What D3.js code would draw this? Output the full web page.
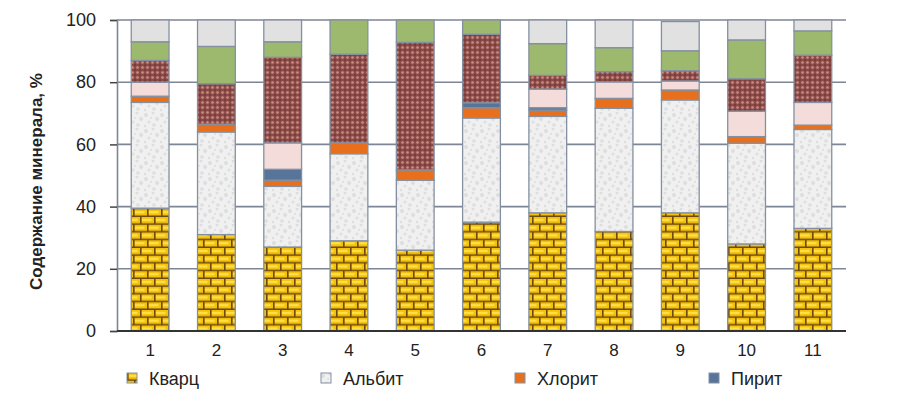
<!DOCTYPE html>
<html><head><meta charset="utf-8">
<script src="https://cdn.jsdelivr.net/npm/d3@7"></script>
<style>
html,body{margin:0;padding:0;background:#fff;}
svg{display:block;}
text{font-family:"Liberation Sans",Arial,sans-serif;fill:#222;}
</style></head>
<body>
<svg id="chart" width="899" height="401"></svg>
<script>
const categories = ["1","2","3","4","5","6","7","8","9","10","11"];
const quartz   = [39.5, 31, 27, 29, 26, 35, 38, 32, 38, 28, 33];
const albite   = [34, 33, 19.5, 28, 22.5, 33.5, 31, 39.6, 36.3, 32.4, 31.8];
const chlorite = [2, 2.5, 2, 3.5, 3.3, 3.3, 2, 3.2, 3.2, 2.1, 1.4];
const pyrite   = [0, 0, 3.5, 0, 0, 1.6, 0.8, 0, 0, 0, 0];
const pinkMin  = [4.5, 0, 8.5, 0, 0, 0, 6, 5.3, 2.9, 8.2, 7.3];
const brownMin = [7, 13, 27.5, 28.5, 41, 22, 4.4, 3.3, 3.3, 10.4, 15.2];
const greenMin = [6, 12, 5, 11, 7.2, 4.6, 10.2, 7.7, 6.4, 12.5, 7.8];
const greyMin  = [7, 8.5, 7, 0, 0, 0, 7.6, 8.9, 9.4, 6.4, 3.5];
const yTicks = [0, 20, 40, 60, 80, 100];
const legendLabels = ["Кварц", "Альбит", "Хлорит", "Пирит"];
const yLabel = "Содержание минерала, %";

const keys = ["quartz","albite","chlorite","pyrite","pink","brown","green","grey"];
const seriesArrays = {quartz, albite, chlorite, pyrite, pink: pinkMin, brown: brownMin, green: greenMin, grey: greyMin};
const table = categories.map((c, i) => {
  const row = {cat: c};
  keys.forEach(k => row[k] = seriesArrays[k][i]);
  return row;
});

const svg = d3.select("#chart");
const margin = {left: 117, right: 53, top: 20, bottom: 70};
const W = 899, H = 401;

// patterns
const defs = svg.append("defs");
const brick = defs.append("pattern").attr("id","p-quartz").attr("patternUnits","userSpaceOnUse")
  .attr("width",14).attr("height",15.5);
brick.append("rect").attr("width",14).attr("height",15.5).attr("fill","#F4C20A");
brick.append("rect").attr("x",1.5).attr("y",1.8).attr("width",10).attr("height",2.2).attr("fill","#FFE04A");
brick.append("rect").attr("x",8.5).attr("y",9.6).attr("width",10).attr("height",2.2).attr("fill","#FFE04A");
brick.append("rect").attr("x",-5.5).attr("y",9.6).attr("width",10).attr("height",2.2).attr("fill","#FFE04A");
brick.append("rect").attr("x",0).attr("y",6.3).attr("width",14).attr("height",1.5).attr("fill","#6E4A12");
brick.append("rect").attr("x",0).attr("y",14).attr("width",14).attr("height",1.5).attr("fill","#6E4A12");
brick.append("rect").attr("x",0).attr("y",0).attr("width",1.6).attr("height",7).attr("fill","#6E4A12");
brick.append("rect").attr("x",7).attr("y",7.7).attr("width",1.6).attr("height",7).attr("fill","#6E4A12");

const alb = defs.append("pattern").attr("id","p-albite").attr("patternUnits","userSpaceOnUse")
  .attr("width",16).attr("height",16);
alb.append("rect").attr("width",16).attr("height",16).attr("fill","#F0F0F0");
[[2,3,2],[9,1,1.5],[13,7,2],[5,10,1.5],[10,13,1.8],[1,14,1.2],[7,6,1]].forEach(d=>{
  alb.append("circle").attr("cx",d[0]).attr("cy",d[1]).attr("r",d[2]).attr("fill","#DEDEDE");
});

const br = defs.append("pattern").attr("id","p-brown").attr("patternUnits","userSpaceOnUse")
  .attr("width",5).attr("height",5);
br.append("rect").attr("width",5).attr("height",5).attr("fill","#8C4A47");
br.append("circle").attr("cx",2.5).attr("cy",2.5).attr("r",1.3).attr("fill","#C98E86");
br.append("circle").attr("cx",0).attr("cy",0).attr("r",0.8).attr("fill","#5E2A28");
br.append("circle").attr("cx",5).attr("cy",0).attr("r",0.8).attr("fill","#5E2A28");
br.append("circle").attr("cx",0).attr("cy",5).attr("r",0.8).attr("fill","#5E2A28");
br.append("circle").attr("cx",5).attr("cy",5).attr("r",0.8).attr("fill","#5E2A28");

const fills = {
  quartz: "url(#p-quartz)", albite: "url(#p-albite)", chlorite: "#E8701C", pyrite: "#587599",
  pink: "#F4DCDB", brown: "url(#p-brown)", green: "#9DB96E", grey: "#E1E1E1"
};

const x = d3.scaleBand().domain(categories).range([margin.left, W - margin.right]).paddingInner(0.43).paddingOuter(0.215);
const y = d3.scaleLinear().domain([0, 100]).range([H - margin.bottom, margin.top]);

// gridlines
svg.append("g").selectAll("line").data(yTicks.filter(t => t > 0)).join("line")
  .attr("x1", margin.left).attr("x2", W - margin.right)
  .attr("y1", d => y(d)).attr("y2", d => y(d))
  .attr("stroke", "#7C8696").attr("stroke-width", 1.6);

// bars
const stacked = d3.stack().keys(keys)(table);
svg.append("g").selectAll("g").data(stacked).join("g")
  .attr("fill", d => fills[d.key])
  .selectAll("rect").data(d => d.filter(s => s[1] - s[0] > 0)).join("rect")
  .attr("x", d => x(d.data.cat))
  .attr("width", x.bandwidth())
  .attr("y", d => y(d[1]))
  .attr("height", d => y(d[0]) - y(d[1]))
  .attr("stroke", "#8490A1").attr("stroke-width", 1.3);

// y axis
const yAxis = d3.axisLeft(y).tickValues(yTicks).tickSize(7).tickPadding(14);
const gy = svg.append("g").attr("transform", `translate(${margin.left},0)`).call(yAxis);
gy.select(".domain").attr("stroke", "#7C8696").attr("stroke-width", 1.6);
gy.selectAll(".tick line").attr("stroke", "#444").attr("stroke-width", 1.5);
gy.selectAll(".tick text").style("font-size", "18px").style("font-family", "'Liberation Sans',Arial,sans-serif").attr("fill", "#222");

// x axis
const xAxis = d3.axisBottom(x).tickSize(0).tickPadding(13);
const gx = svg.append("g").attr("transform", `translate(0,${y(0)})`).call(xAxis);
gx.select(".domain").attr("stroke", "#333").attr("stroke-width", 2)
  .attr("d", `M${margin.left},0H${W - margin.right}`);
gx.selectAll(".tick text").style("font-size", "17px").style("font-family", "'Liberation Sans',Arial,sans-serif").attr("fill", "#222");

// y label
svg.append("text")
  .attr("transform", `translate(42,${(y(0) + y(100)) / 2 + 6}) rotate(-90)`)
  .attr("text-anchor", "middle")
  .style("font-size", "17px").style("font-weight", "bold")
  .text(yLabel);

// legend
const legendKeys = ["quartz","albite","chlorite","pyrite"];
const lg = svg.append("g").selectAll("g").data(legendKeys).join("g")
  .attr("transform", (d, i) => `translate(${127 + i * 194},373)`);
lg.append("rect").attr("width", 10).attr("height", 10)
  .attr("fill", d => fills[d]).attr("stroke", "#8490A1").attr("stroke-width", 1);
lg.append("text").attr("x", 22).attr("y", 12)
  .style("font-size", "18px").text((d, i) => legendLabels[i]);
</script>
</body></html>
